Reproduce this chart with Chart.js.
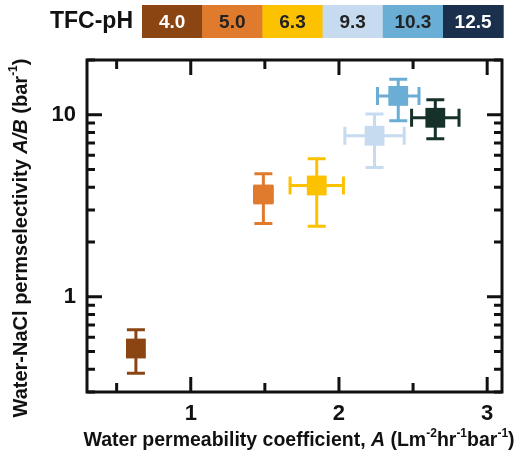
<!DOCTYPE html>
<html>
<head>
<meta charset="utf-8">
<script src="https://cdn.jsdelivr.net/npm/chart.js@4"></script>
<style>
  html, body { margin: 0; padding: 0; background: #fff; }
</style>
</head>
<body>
<canvas id="permChart" width="521" height="460"></canvas>
<script>
// TFC membranes made at different pH
const phLabels = ['4.0', '5.0', '6.3', '9.3', '10.3', '12.5'];
const permA = [0.63, 1.49, 1.85, 2.24, 2.40, 2.65];
const permAErr = [0.05, 0.06, 0.18, 0.20, 0.14, 0.16];
const selectivity = [0.52, 3.65, 4.09, 7.67, 12.7, 9.63];
const selectivityLow = [0.38, 2.53, 2.44, 5.13, 9.27, 7.39];
const selectivityHigh = [0.66, 4.75, 5.74, 10.1, 15.7, 12.1];

const xTickValues = [0.5, 1, 1.5, 2, 2.5, 3];
const yTickValues = [0.3, 0.4, 0.5, 0.6, 0.7, 0.8, 0.9, 1, 2, 3, 4, 5, 6, 7, 8, 9, 10, 20];
const yLabelled = [1, 10];

const markerColors = ['#8b4513', '#e07b2e', '#fcc200', '#c6dbef', '#6aadd5', '#16302a'];
const legendColors = ['#8b4513', '#e07b2e', '#fcc200', '#c6dbef', '#6aadd5', '#1b304d'];
const legendTextColors = ['#fff', '#222', '#222', '#222', '#222', '#fff'];

const FONT = 'Arial, "Liberation Sans", sans-serif';

const errorBars = {
    id: 'errorBars',
    beforeDatasetsDraw(chart) {
        const { ctx, scales: { x, y } } = chart;
        ctx.save();
        ctx.lineWidth = 3;
        chart.data.datasets.forEach((ds, i) => {
            const px = x.getPixelForValue(permA[i]);
            const py = y.getPixelForValue(selectivity[i]);
            const yTop = y.getPixelForValue(selectivityHigh[i]);
            const yBot = y.getPixelForValue(selectivityLow[i]);
            const xL = x.getPixelForValue(permA[i] - permAErr[i]);
            const xR = x.getPixelForValue(permA[i] + permAErr[i]);
            ctx.strokeStyle = ds.backgroundColor;
            ctx.beginPath();
            ctx.moveTo(px, yTop); ctx.lineTo(px, yBot);
            ctx.moveTo(px - 9, yTop); ctx.lineTo(px + 9, yTop);
            ctx.moveTo(px - 9, yBot); ctx.lineTo(px + 9, yBot);
            ctx.moveTo(xL, py); ctx.lineTo(xR, py);
            ctx.moveTo(xL, py - 9); ctx.lineTo(xL, py + 9);
            ctx.moveTo(xR, py - 9); ctx.lineTo(xR, py + 9);
            ctx.stroke();
        });
        ctx.restore();
    }
};

function drawRich(ctx, parts, cx, cy) {
    let total = 0;
    parts.forEach(p => {
        ctx.font = p.font;
        total += ctx.measureText(p.text).width;
    });
    let pos = cx - total / 2;
    parts.forEach(p => {
        ctx.font = p.font;
        ctx.fillText(p.text, pos, cy + (p.rise || 0));
        pos += ctx.measureText(p.text).width;
    });
}

const frameAndDecor = {
    id: 'frameAndDecor',
    afterDraw(chart) {
        const { ctx, chartArea: a, scales: { x, y } } = chart;
        ctx.save();
        ctx.strokeStyle = '#111';
        ctx.lineWidth = 3;
        ctx.strokeRect(a.left, a.top, a.right - a.left, a.bottom - a.top);

        // inward ticks on all four sides
        ctx.beginPath();
        xTickValues.forEach(v => {
            const px = x.getPixelForValue(v);
            const len = Number.isInteger(v) ? 15 : 9;
            ctx.moveTo(px, a.bottom); ctx.lineTo(px, a.bottom - len);
            ctx.moveTo(px, a.top); ctx.lineTo(px, a.top + len);
        });
        yTickValues.forEach(v => {
            const py = y.getPixelForValue(v);
            const len = yLabelled.includes(v) ? 15 : 8;
            ctx.moveTo(a.left, py); ctx.lineTo(a.left + len, py);
            ctx.moveTo(a.right, py); ctx.lineTo(a.right - len, py);
        });
        ctx.stroke();

        // axis titles
        ctx.fillStyle = '#111';
        ctx.textBaseline = 'middle';
        ctx.textAlign = 'left';
        const b = 'bold 19.5px ' + FONT, bi = 'italic bold 19.5px ' + FONT, s = 'bold 12px ' + FONT;
        drawRich(ctx, [
            { text: 'Water permeability coefficient, ', font: b },
            { text: 'A', font: bi },
            { text: ' (Lm', font: b },
            { text: '-2', font: s, rise: -7 },
            { text: 'hr', font: b },
            { text: '-1', font: s, rise: -7 },
            { text: 'bar', font: b },
            { text: '-1', font: s, rise: -7 },
            { text: ')', font: b }
        ], 299, 441);

        const yb = 'bold 20px ' + FONT, ybi = 'italic bold 20px ' + FONT;
        ctx.save();
        ctx.translate(21, 238);
        ctx.rotate(-Math.PI / 2);
        drawRich(ctx, [
            { text: 'Water-NaCl permselectivity ', font: yb },
            { text: 'A/B', font: ybi },
            { text: ' (bar', font: yb },
            { text: '-1', font: s, rise: -7 },
            { text: ')', font: yb }
        ], 0, 0);
        ctx.restore();

        // pH colour key
        ctx.font = 'bold 23px ' + FONT;
        ctx.textAlign = 'right';
        ctx.fillText('TFC-pH', 133, 22);
        const cellW = 60.2, x0 = 142, top = 5, h = 33;
        ctx.textAlign = 'center';
        ctx.font = 'bold 19px ' + FONT;
        phLabels.forEach((lab, i) => {
            ctx.fillStyle = legendColors[i];
            ctx.fillRect(x0 + i * cellW, top, cellW + 0.5, h);
            ctx.fillStyle = legendTextColors[i];
            ctx.fillText(lab, x0 + i * cellW + cellW / 2, top + h / 2 + 1);
        });
        ctx.restore();
    }
};

const ctx = document.getElementById('permChart').getContext('2d');
new Chart(ctx, {
    type: 'scatter',
    data: {
        datasets: phLabels.map((ph, i) => ({
            label: 'TFC-pH ' + ph,
            data: [{ x: permA[i], y: selectivity[i] }],
            backgroundColor: markerColors[i],
            borderWidth: 0,
            pointStyle: 'rect',
            pointRadius: 14,
            pointHoverRadius: 14
        }))
    },
    options: {
        responsive: false,
        animation: false,
        events: [],
        layout: { padding: { top: 60, right: 19, left: 0, bottom: 0 } },
        plugins: {
            legend: { display: false },
            tooltip: { enabled: false }
        },
        scales: {
            x: {
                type: 'linear',
                min: 0.3,
                max: 3.1,
                afterBuildTicks: s => { s.ticks = xTickValues.map(v => ({ value: v })); },
                afterFit: s => { s.height = 68; },
                grid: { display: false, drawTicks: false },
                border: { display: false },
                ticks: {
                    autoSkip: false,
                    maxRotation: 0,
                    padding: 9,
                    color: '#111',
                    font: { family: FONT, size: 22, weight: 'bold' },
                    callback: v => Number.isInteger(v) ? String(v) : ''
                }
            },
            y: {
                type: 'logarithmic',
                min: 0.3,
                max: 20,
                afterBuildTicks: s => { s.ticks = yTickValues.map(v => ({ value: v })); },
                afterFit: s => { s.width = 87; },
                grid: { display: false, drawTicks: false },
                border: { display: false },
                ticks: {
                    autoSkip: false,
                    padding: 11,
                    color: '#111',
                    font: { family: FONT, size: 22, weight: 'bold' },
                    callback: v => yLabelled.includes(v) ? String(v) : ''
                }
            }
        }
    },
    plugins: [errorBars, frameAndDecor]
});
</script>
</body>
</html>
